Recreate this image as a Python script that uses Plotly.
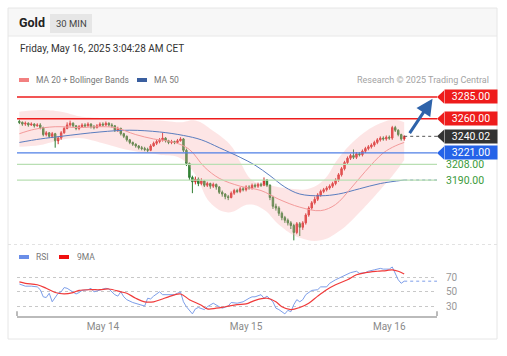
import plotly.graph_objects as go
import pandas as pd

W, H = 507, 356

# ---------------- data ----------------
times = pd.date_range("2025-05-13 10:00", periods=130, freq="30min")

opens = [3257,3256,3254,3255,3253,3254,3252,3253,3250,3242,
         3244,3240,3243,3235,3238,3244,3249,3253,3255,3252,
         3249,3251,3253,3252,3254,3251,3250,3252,3254,3253,
         3255,3253,3252,3247,3249,3243,3240,3236,3233,3231,
         3229,3227,3226,3225,3224,3229,3232,3234,3236,3238,
         3235,3233,3234,3233,3235,3237,3224,3209,3193,3188,
         3191,3186,3189,3184,3186,3183,3185,3182,3176,3174,
         3171,3170,3175,3178,3177,3180,3179,3182,3181,3184,
         3183,3185,3184,3190,3184,3170,3160,3158,3152,3147,
         3144,3141,3138,3130,3140,3136,3141,3150,3158,3164,
         3168,3173,3177,3179,3181,3183,3186,3190,3196,3203,
         3210,3215,3218,3216,3220,3219,3223,3226,3228,3230,
         3233,3236,3238,3237,3239,3238,3250,3247,3242,3237]
highs = [3259,3257,3257,3256,3256,3255,3255,3255,3251,3246,
         3245,3245,3244,3240,3246,3251,3256,3258,3256,3253,
         3253,3255,3255,3256,3255,3253,3254,3256,3256,3257,
         3256,3255,3253,3251,3250,3244,3241,3237,3234,3232,
         3230,3229,3228,3227,3231,3234,3236,3238,3244,3239,
         3236,3236,3235,3237,3239,3238,3226,3210,3195,3194,
         3193,3192,3190,3188,3187,3187,3186,3183,3178,3175,
         3173,3177,3180,3180,3182,3182,3184,3184,3186,3186,
         3187,3187,3193,3191,3185,3172,3163,3160,3154,3149,
         3146,3143,3140,3142,3142,3143,3152,3160,3166,3171,
         3175,3179,3181,3183,3185,3188,3192,3198,3205,3212,
         3217,3220,3225,3222,3222,3225,3228,3230,3232,3235,
         3238,3240,3240,3241,3241,3252,3252,3248,3243,3241]
lows = [3254,3252,3252,3251,3252,3250,3251,3248,3240,3240,
        3238,3238,3227,3231,3236,3243,3248,3251,3250,3247,
        3247,3250,3250,3251,3249,3248,3249,3251,3251,3252,
        3251,3250,3245,3245,3241,3238,3234,3231,3229,3227,
        3225,3224,3223,3222,3223,3228,3230,3232,3234,3233,
        3231,3231,3231,3232,3234,3222,3206,3190,3175,3185,
        3183,3184,3182,3182,3180,3181,3179,3174,3171,3168,
        3167,3169,3173,3175,3175,3177,3177,3179,3179,3181,
        3181,3182,3183,3182,3167,3157,3155,3149,3144,3141,
        3138,3134,3121,3128,3126,3133,3139,3148,3156,3162,
        3166,3171,3175,3177,3179,3181,3184,3188,3194,3201,
        3208,3213,3214,3214,3217,3217,3221,3224,3226,3228,
        3231,3234,3235,3235,3236,3236,3245,3240,3235,3235]
closes = [3256,3254,3255,3253,3254,3252,3253,3250,3242,3244,
          3240,3243,3235,3238,3244,3249,3253,3255,3252,3249,
          3251,3253,3252,3254,3251,3250,3252,3254,3253,3255,
          3253,3252,3247,3249,3243,3240,3236,3233,3231,3229,
          3227,3226,3225,3224,3229,3232,3234,3236,3238,3235,
          3233,3234,3233,3235,3237,3224,3209,3193,3188,3191,
          3186,3189,3184,3186,3183,3185,3182,3176,3174,3171,
          3170,3175,3178,3177,3180,3179,3182,3181,3184,3183,
          3185,3184,3190,3184,3170,3160,3158,3152,3147,3144,
          3141,3138,3130,3140,3136,3141,3150,3158,3164,3168,
          3173,3177,3179,3181,3183,3186,3190,3196,3203,3210,
          3215,3218,3216,3220,3219,3223,3226,3228,3230,3233,
          3236,3238,3237,3239,3238,3250,3247,3242,3237,3240.02]

ma20_idx = [0,5,12,20,27,32,39,45,52,57,62,67,74,81,87,94,101,106,111,116,122,126,129]
ma20_val = [3243,3248,3251,3250,3251,3250,3242,3237,3233,3225,3205,3192,3183,3178,3168,3159,3155,3162,3180,3200,3221,3229,3233]

ma50_idx = [0,7,14,27,37,47,55,61,67,74,79,84,89,94,101,107,114,121,129]
ma50_val = [3233,3237,3240,3245,3247,3245,3241,3236,3227,3216,3207,3195,3182,3174,3172,3174,3180,3186,3190]

bb_idx = [0,7,14,20,27,37,47,54,59,65,71,74,78,84,91,97,102,107,114,121,126,129]
bb_upper = [3268,3270,3268,3263,3261,3259,3258,3256,3258,3246,3229,3211,3190,3184,3180,3180,3190,3215,3240,3255,3259,3256]
bb_lower_idx = [0,7,14,20,27,37,47,54,59,64,70,77,82,87,94,101,107,114,121,126,129]
bb_lower = [3228,3230,3236,3238,3233,3224,3219,3215,3196,3164,3153,3162,3156,3139,3124,3121,3131,3153,3179,3199,3213]

rsi_idx = [0,2,4,6,7,8,9,10,11,12,13,14,15,16,18,19,20,21,23,24,25,27,29,30,32,33,34,35,36,38,
           40,42,43,44,45,47,48,50,52,53,54,55,56,58,59,60,62,63,65,67,68,70,71,73,75,77,78,79,81,82,
           83,85,86,87,89,90,91,92,93,94,95,96,98,100,101,103,104,106,108,110,111,113,114,116,117,119,
           121,122,124,125,126,127,128,129]
rsi_val = [61,58,58,57,53,43,42,48,36,43,48,50,56,55,50,47,49,52,53,55,50,53,55,54,46,44,50,43,39,35,
           33,30,41,40,44,50,46,46,46,48,50,36,29,19,26,28,25,29,34,29,27,30,35,34,36,41,43,43,46,41,
           44,36,27,25,19,24,22,32,39,36,39,46,52,53,57,57,62,67,71,76,77,79,76,77,79,81,
           83,82,82,85,76,67,62,65]
ma9_idx = [0,2,6,9,12,15,18,20,24,27,30,34,36,39,42,45,48,50,54,57,61,63,66,69,73,76,79,83,86,88,
           91,94,97,100,103,106,110,113,116,120,123,125,127,129]
ma9_val = [64,62,60,55,49,47,49,52,53,53,54,50,48,41,36,36,40,43,47,39,31,26,27,29,32,33,38,41,36,29,
           25,28,34,44,53,60,67,74,77,79,80,81,79,75]

resistance = [3285.00, 3260.00]
last_price = 3240.02
pivot = 3221.00
supports = [3208.00, 3190.00]
rsi_levels = [30, 50, 70]
date_ticks = ["2025-05-14", "2025-05-15", "2025-05-16"]
date_labels = ["May 14", "May 15", "May 16"]
arrow_from = ("2025-05-16 03:15", 3242)
arrow_to = ("2025-05-16 07:15", 3283)

# ---------------- layout geometry ----------------
t_start = pd.Timestamp("2025-05-13 09:36")
t_end = pd.Timestamp("2025-05-16 08:00")
X0, X1 = 17, 437            # px of plot area
PY0, PY1 = 90, 245          # price panel px
RY0, RY1 = 262, 316         # rsi panel px
p_range = [3115.7, 3293.0]
r_range = [16, 92]
px_per_unit = (PY1 - PY0) / (p_range[1] - p_range[0])

def px(x):
    return x / W

def py(y):
    return 1 - y / H

FONT = "Roboto, Arial, sans-serif"
RED = "#ee1c1c"
BLUE = "#2563e8"
DARK = "#333333"
GREEN_TXT = "#3a9a3a"
GREEN_LINE = "#b9dfb3"

fig = go.Figure()

# Bollinger band fill
fig.add_trace(go.Scatter(x=[times[i] for i in bb_idx], y=bb_upper, mode="lines",
                         line=dict(width=0, shape="spline", smoothing=1.2),
                         hoverinfo="skip", showlegend=False, xaxis="x", yaxis="y"))
fig.add_trace(go.Scatter(x=[times[i] for i in bb_lower_idx], y=bb_lower, mode="lines",
                         line=dict(width=0, shape="spline", smoothing=1.2),
                         fill="tonexty", fillcolor="rgba(248,170,170,0.30)",
                         hoverinfo="skip", showlegend=False, xaxis="x", yaxis="y"))
# MA lines
fig.add_trace(go.Scatter(x=[times[i] for i in ma50_idx], y=ma50_val, mode="lines",
                         line=dict(color="#5a7dbf", width=1, shape="spline"),
                         showlegend=False, xaxis="x", yaxis="y"))
fig.add_trace(go.Scatter(x=[times[i] for i in ma20_idx], y=ma20_val, mode="lines",
                         line=dict(color="#f39a9a", width=1, shape="spline"),
                         showlegend=False, xaxis="x", yaxis="y"))
# MA50 dotted extension
fig.add_trace(go.Scatter(x=[times[-1], t_end], y=[ma50_val[-1], ma50_val[-1]], mode="lines",
                         line=dict(color="#5a7dbf", width=1, dash="dot"),
                         showlegend=False, xaxis="x", yaxis="y"))
# last price dotted extension
fig.add_trace(go.Scatter(x=[times[-1], t_end], y=[last_price, last_price], mode="lines",
                         line=dict(color="#555555", width=1, dash="dot"),
                         showlegend=False, xaxis="x", yaxis="y"))

# candles
fig.add_trace(go.Candlestick(x=times, open=opens, high=highs, low=lows, close=closes,
                             increasing=dict(line=dict(color="#d42a2a", width=1), fillcolor="#e23030"),
                             decreasing=dict(line=dict(color="#2f7d32", width=1), fillcolor="#3c8f3c"),
                             whiskerwidth=0, showlegend=False, xaxis="x", yaxis="y"))

# RSI
fig.add_trace(go.Scatter(x=[times[i] for i in rsi_idx], y=rsi_val, mode="lines",
                         line=dict(color="#7d9ee9", width=1),
                         showlegend=False, xaxis="x2", yaxis="y2"))
fig.add_trace(go.Scatter(x=[times[i] for i in ma9_idx], y=ma9_val, mode="lines",
                         line=dict(color="#f03a3a", width=1.2, shape="spline"),
                         showlegend=False, xaxis="x2", yaxis="y2"))
fig.add_trace(go.Scatter(x=[times[-1], t_end], y=[rsi_val[-1], rsi_val[-1]], mode="lines",
                         line=dict(color="#7d9ee9", width=1, dash="dot"),
                         showlegend=False, xaxis="x2", yaxis="y2"))

shapes = []
annotations = []

# card / header
shapes.append(dict(type="rect", xref="paper", yref="paper", x0=px(8), x1=px(497), y0=py(36), y1=py(8),
                   fillcolor="#f7f7f7", line=dict(width=0), layer="below"))
shapes.append(dict(type="line", xref="paper", yref="paper", x0=px(8), x1=px(497), y0=py(36), y1=py(36),
                   line=dict(color="#e8e8e8", width=1)))
shapes.append(dict(type="rect", xref="paper", yref="paper", x0=px(8), x1=px(497), y0=py(339), y1=py(8),
                   line=dict(color="#e6e6e6", width=1)))
shapes.append(dict(type="rect", xref="paper", yref="paper", x0=px(50), x1=px(92), y0=py(33), y1=py(14),
                   fillcolor="#e6e6e6", line=dict(width=0)))
shapes.append(dict(type="line", xref="paper", yref="paper", x0=px(8), x1=px(497), y0=py(244.5), y1=py(244.5),
                   line=dict(color="#e2e2e2", width=1, dash="dot")))

annotations.append(dict(text="<b>Gold</b>", x=px(17), y=py(23), xref="paper", yref="paper",
                        xanchor="left", yanchor="middle", showarrow=False,
                        font=dict(size=12.5, color="#222", family=FONT)))
annotations.append(dict(text="30 MIN", x=px(71), y=py(23.5), xref="paper", yref="paper",
                        xanchor="center", yanchor="middle", showarrow=False,
                        font=dict(size=9.5, color="#444", family=FONT)))
annotations.append(dict(text="Friday, May 16, 2025 3:04:28 AM CET", x=px(18), y=py(48), xref="paper", yref="paper",
                        xanchor="left", yanchor="middle", showarrow=False,
                        font=dict(size=10, color="#333", family=FONT)))

# legends
def legend_item(x_sw, y, color, text, x_txt):
    shapes.append(dict(type="rect", xref="paper", yref="paper", x0=px(x_sw), x1=px(x_sw + 10),
                       y0=py(y + 2), y1=py(y - 2), fillcolor=color, line=dict(width=0)))
    annotations.append(dict(text=text, x=px(x_txt), y=py(y), xref="paper", yref="paper",
                            xanchor="left", yanchor="middle", showarrow=False,
                            font=dict(size=8.5, color="#777", family=FONT)))

legend_item(19, 80, "#f28080", "MA 20 + Bollinger Bands", 34)
legend_item(137, 80, "#3a5f9f", "MA 50", 152)
legend_item(19, 257, "#6a8ee8", "RSI", 34)
legend_item(59, 257, "#f01010", "9MA", 75)

annotations.append(dict(text="Research © 2025 Trading Central", x=px(491), y=py(80), xref="paper", yref="paper",
                        xanchor="right", yanchor="middle", showarrow=False,
                        font=dict(size=9, color="#a3a3a3", family=FONT)))

# price level lines
for lv in resistance:
    shapes.append(dict(type="line", xref="x domain", yref="y", x0=0, x1=1, y0=lv, y1=lv,
                       line=dict(color=RED, width=1.5)))
shapes.append(dict(type="line", xref="x domain", yref="y", x0=0, x1=1, y0=pivot, y1=pivot,
                   line=dict(color="#4f7fe6", width=1.3)))
for lv in supports:
    shapes.append(dict(type="line", xref="x domain", yref="y", x0=0, x1=1, y0=lv, y1=lv,
                       line=dict(color=GREEN_LINE, width=1.3)))

# boxed labels
def box_label(val, color):
    dy = 6.5 / px_per_unit
    shapes.append(dict(type="path", xref="paper", yref="y",
                       path=f"M {px(437)},{val} L {px(444)},{val + dy} L {px(444)},{val - dy} Z",
                       fillcolor=color, line=dict(width=0)))
    annotations.append(dict(text=f"{val:.2f}", x=px(443.5), y=val, xref="paper", yref="y",
                            xanchor="left", yanchor="middle", showarrow=False,
                            bgcolor=color, width=52, height=13, borderpad=0, align="center",
                            font=dict(size=10.5, color="white", family=FONT)))

for lv in resistance:
    box_label(lv, RED)
box_label(last_price, DARK)
box_label(pivot, BLUE)
for lv in supports:
    annotations.append(dict(text=f"{lv:.2f}", x=px(444), y=lv, xref="paper", yref="y",
                            xanchor="left", yanchor="middle", showarrow=False,
                            font=dict(size=10.5, color=GREEN_TXT, family=FONT)))

# forecast arrow
annotations.append(dict(x=arrow_to[0], y=arrow_to[1], ax=arrow_from[0], ay=arrow_from[1],
                        xref="x", yref="y", axref="x", ayref="y", text="", showarrow=True,
                        arrowhead=2, arrowsize=1.1, arrowwidth=3, arrowcolor="#2e63aa"))

# RSI axis end brackets
for xe in (0, 1):
    shapes.append(dict(type="line", xref="x2 domain", yref="y2 domain", x0=xe, x1=xe, y0=0, y1=0.09,
                       line=dict(color="#bbbbbb", width=2)))

fig.update_layout(
    width=W, height=H, margin=dict(l=0, r=0, t=0, b=0),
    paper_bgcolor="white", plot_bgcolor="rgba(0,0,0,0)",
    font=dict(family=FONT),
    showlegend=False,
    shapes=shapes, annotations=annotations,
    xaxis=dict(domain=[px(X0), px(X1)], range=[t_start, t_end], anchor="y",
               showticklabels=False, showgrid=False, zeroline=False, showline=False,
               rangeslider=dict(visible=False), fixedrange=True),
    yaxis=dict(domain=[py(PY1), py(PY0)], range=p_range, anchor="x",
               showticklabels=False, showgrid=False, zeroline=False, showline=False),
    xaxis2=dict(domain=[px(X0), px(X1)], range=[t_start, t_end], anchor="y2", matches="x",
                tickvals=date_ticks, ticktext=date_labels, ticks="",
                tickfont=dict(size=10, color="#8a8a8a", family=FONT),
                showgrid=False, zeroline=False, showline=True, linecolor="#bbbbbb", linewidth=2,
                rangeslider=dict(visible=False)),
    yaxis2=dict(domain=[py(RY1), py(RY0)], range=r_range, anchor="x2", side="right",
                tickvals=rsi_levels, ticks="", ticklabelstandoff=8,
                tickfont=dict(size=10, color="#999", family=FONT),
                showgrid=True, gridcolor="#c8c8c8", griddash="dot", gridwidth=1,
                zeroline=False, showline=False),
)

fig.write_html("out.html", config={"displayModeBar": False},
               post_script="document.body.style.margin='0';document.body.style.overflow='hidden';")
